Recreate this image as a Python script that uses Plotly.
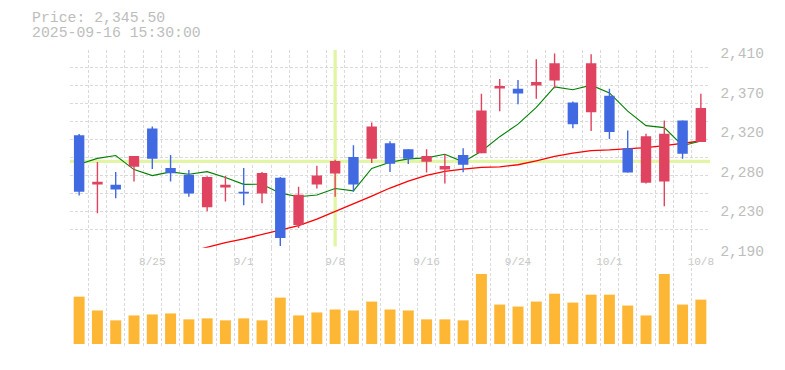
import plotly.graph_objects as go

# ---------------- data ----------------
dates = ["8/19", "8/20", "8/21", "8/22", "8/25", "8/26", "8/27", "8/28", "8/29",
         "9/1", "9/2", "9/3", "9/4", "9/5", "9/8", "9/9", "9/10", "9/11", "9/12",
         "9/16", "9/17", "9/18", "9/19", "9/22", "9/24", "9/25", "9/26", "9/29", "9/30",
         "10/1", "10/2", "10/3", "10/6", "10/7", "10/8"]

opens = [2315.1, 2260.4, 2260.1, 2280.2, 2322.8, 2278.8, 2271.4, 2235.1, 2257.2, 2252.4,
         2250.5, 2267.8, 2215.3, 2260.4, 2272.6, 2290.9, 2289.0, 2306.3, 2299.7, 2285.7,
         2277.0, 2293.1, 2295.3, 2367.2, 2366.8, 2370.5, 2376.0, 2351.7, 2340.7, 2359.1,
         2300.8, 2262.3, 2263.8, 2331.6, 2307.8]
highs = [2316.5, 2285.4, 2274.4, 2292.0, 2325.0, 2293.1, 2276.6, 2269.6, 2270.0, 2278.8,
         2274.4, 2268.9, 2257.9, 2281.4, 2288.0, 2304.1, 2329.4, 2308.5, 2299.7, 2299.7,
         2294.2, 2300.8, 2361.3, 2377.8, 2376.7, 2399.8, 2406.0, 2352.8, 2405.3, 2366.8,
         2320.5, 2316.9, 2331.6, 2331.6, 2361.3]
lows = [2248.3, 2228.5, 2245.0, 2263.8, 2277.7, 2263.8, 2246.9, 2230.7, 2241.4, 2237.3,
        2239.5, 2191.9, 2212.0, 2256.0, 2246.9, 2252.4, 2284.3, 2274.4, 2283.2, 2273.7,
        2261.6, 2274.0, 2295.3, 2341.9, 2349.6, 2355.8, 2367.5, 2323.1, 2319.8, 2311.0,
        2273.7, 2261.6, 2236.2, 2289.0, 2307.8]
closes = [2252.4, 2263.4, 2254.9, 2292.0, 2289.0, 2273.0, 2250.5, 2268.9, 2260.1, 2250.5,
          2273.3, 2201.0, 2249.0, 2270.3, 2286.5, 2260.4, 2325.0, 2283.6, 2289.0, 2292.0,
          2281.0, 2282.5, 2342.6, 2370.1, 2361.7, 2374.5, 2395.4, 2327.5, 2395.4, 2318.7,
          2273.7, 2314.0, 2316.9, 2294.6, 2345.5]

ma_short = [2283.0, 2289.5, 2292.7, 2277.0, 2270.3, 2274.5, 2271.9, 2274.7, 2268.3, 2260.6,
            2260.7, 2250.8, 2246.8, 2248.8, 2256.0, 2253.4, 2278.2, 2285.2, 2288.9, 2290.0,
            2294.1, 2285.6, 2297.4, 2313.6, 2327.6, 2346.3, 2368.9, 2365.8, 2370.9, 2362.3,
            2342.1, 2325.9, 2323.7, 2303.6, 2308.9]
ma_long = [None, None, None, None, None, None, 2185.4, 2191.0, 2195.9, 2199.9,
           2204.7, 2210.2, 2214.6, 2221.9, 2230.3, 2238.4, 2247.5, 2256.5, 2264.1, 2270.7,
           2275.0, 2277.5, 2279.5, 2280.0, 2282.4, 2286.8, 2291.6, 2295.3, 2298.2, 2298.9,
           2300.0, 2301.5, 2303.7, 2306.3, 2308.8]

volumes = [4800, 3400, 2400, 2900, 3000, 3100, 2500, 2600, 2400, 2600,
           2400, 4700, 2900, 3200, 3500, 3400, 4300, 3500, 3400, 2500,
           2500, 2400, 7100, 4000, 3800, 4300, 5100, 4200, 5000, 5000,
           3900, 2900, 7100, 4000, 4500]

price_ticks = [2190, 2234, 2278, 2322, 2366, 2410]
price_tick_text = ["2,190", "2,230", "2,280", "2,320", "2,370", "2,410"]
date_tick_labels = ["8/25", "9/1", "9/8", "9/16", "9/24", "10/1", "10/8"]

header_price = "Price: 2,345.50"
header_time = "2025-09-16 15:30:00"
cross_date = "9/8"
cross_price = 2286.1

# ---------------- styling ----------------
UP = "#E0435F"
DOWN = "#4169E1"
VOL = "#FDB735"
GRID = "#dadada"
AXIS = "#c4c4c4"
TXT = "#bdbdbd"
CROSS = "#E2F5A4"
FONT = "Liberation Mono"

x = list(range(len(dates)))
fig = go.Figure()

# moving averages
fig.add_trace(go.Scatter(x=x, y=ma_long, mode="lines", line=dict(color="#FF0000", width=1.3),
                         xaxis="x", yaxis="y", zorder=0, hoverinfo="skip"))
fig.add_trace(go.Scatter(x=x, y=ma_short, mode="lines", line=dict(color="#008000", width=1.1),
                         xaxis="x", yaxis="y", zorder=0, hoverinfo="skip"))

# wicks
for up, col in ((True, UP), (False, DOWN)):
    wx, wy = [], []
    for i in x:
        if (closes[i] >= opens[i]) == up:
            wx += [i, i, None]
            wy += [lows[i], highs[i], None]
    fig.add_trace(go.Scatter(x=wx, y=wy, mode="lines", line=dict(color=col, width=1.4),
                             xaxis="x", yaxis="y", zorder=1, hoverinfo="skip"))

# bodies
for up, col in ((True, UP), (False, DOWN)):
    bx, bb, bh = [], [], []
    for i in x:
        if (closes[i] >= opens[i]) == up:
            bx.append(i)
            bb.append(min(opens[i], closes[i]))
            bh.append(abs(closes[i] - opens[i]))
    fig.add_trace(go.Bar(x=bx, y=bh, base=bb, width=0.57, marker=dict(color=col, line=dict(width=0)),
                         xaxis="x", yaxis="y", zorder=2, hoverinfo="skip"))

# volume
fig.add_trace(go.Bar(x=x, y=volumes, width=0.6, marker=dict(color=VOL, line=dict(width=0)),
                     xaxis="x2", yaxis="y2", hoverinfo="skip"))

bounds = [i - 0.5 for i in range(len(dates) + 1)]
date_tick_pos = [dates.index(d) for d in date_tick_labels]
dom_split = (350 - 250.5) / 300

fig.update_layout(
    width=785, height=370,
    margin=dict(l=70, r=75, t=50, b=20),
    paper_bgcolor="white", plot_bgcolor="white",
    showlegend=False, barmode="overlay", hovermode=False,
    xaxis=dict(domain=[0, 1], range=[-0.5, len(dates) - 0.5], anchor="y",
               tickvals=date_tick_pos, ticktext=date_tick_labels,
               showgrid=False, zeroline=False, ticks="",
               tickfont=dict(family=FONT, size=11, color="#c6c6c6"),
               ticklabelstandoff=2,
               showline=True, linecolor=AXIS, linewidth=1.5,
               minor=dict(tickvals=bounds, showgrid=True, gridcolor=GRID,
                          griddash="3px,2px", gridwidth=1, ticks="")),
    yaxis=dict(domain=[dom_split, 1], range=[2190, 2410], side="right", anchor="x",
               tickvals=price_ticks, ticktext=price_tick_text,
               showgrid=False, zeroline=False, ticks="",
               tickfont=dict(family=FONT, size=14.5, color=TXT),
               ticklabelstandoff=6, ticklabelshift=3,
               showline=True, linecolor=AXIS, linewidth=1.5,
               minor=dict(tick0=2190, dtick=20, showgrid=True, gridcolor=GRID,
                          griddash="3px,2px", gridwidth=1, ticks="")),
    xaxis2=dict(domain=[0, 1], range=[-0.5, len(dates) - 0.5], anchor="y2", matches="x",
                showticklabels=False, showgrid=False, zeroline=False, ticks="",
                showline=True, linecolor=AXIS, linewidth=1.5,
                minor=dict(tickvals=bounds, showgrid=True, gridcolor=GRID,
                           griddash="3px,2px", gridwidth=1, ticks="")),
    yaxis2=dict(domain=[0, dom_split], range=[-200, 9750], side="right", anchor="x2",
                showticklabels=False, showgrid=False, zeroline=False, ticks="",
                showline=True, linecolor=AXIS, linewidth=1.5),
    shapes=[
        dict(type="line", xref="x", yref="y", x0=-0.5, x1=len(dates) - 0.5,
             y0=cross_price, y1=cross_price, line=dict(color=CROSS, width=3.2), layer="between"),
        dict(type="line", xref="x", yref="y", x0=dates.index(cross_date), x1=dates.index(cross_date),
             y0=2191.5, y1=2410, line=dict(color=CROSS, width=3.3), layer="between"),
    ],
    annotations=[
        dict(text=header_price, xref="paper", yref="paper", x=-40 / 640, y=(350 - 17.5) / 300,
             xanchor="left", yanchor="middle", showarrow=False,
             font=dict(family=FONT, size=14.8, color=TXT)),
        dict(text=header_time, xref="paper", yref="paper", x=-40 / 640, y=(350 - 33) / 300,
             xanchor="left", yanchor="middle", showarrow=False,
             font=dict(family=FONT, size=14.8, color=TXT)),
    ],
)

fig.write_html("out.html", config={"displayModeBar": False, "staticPlot": True},
               post_script="document.body.style.margin='0';document.body.style.padding='0';")
